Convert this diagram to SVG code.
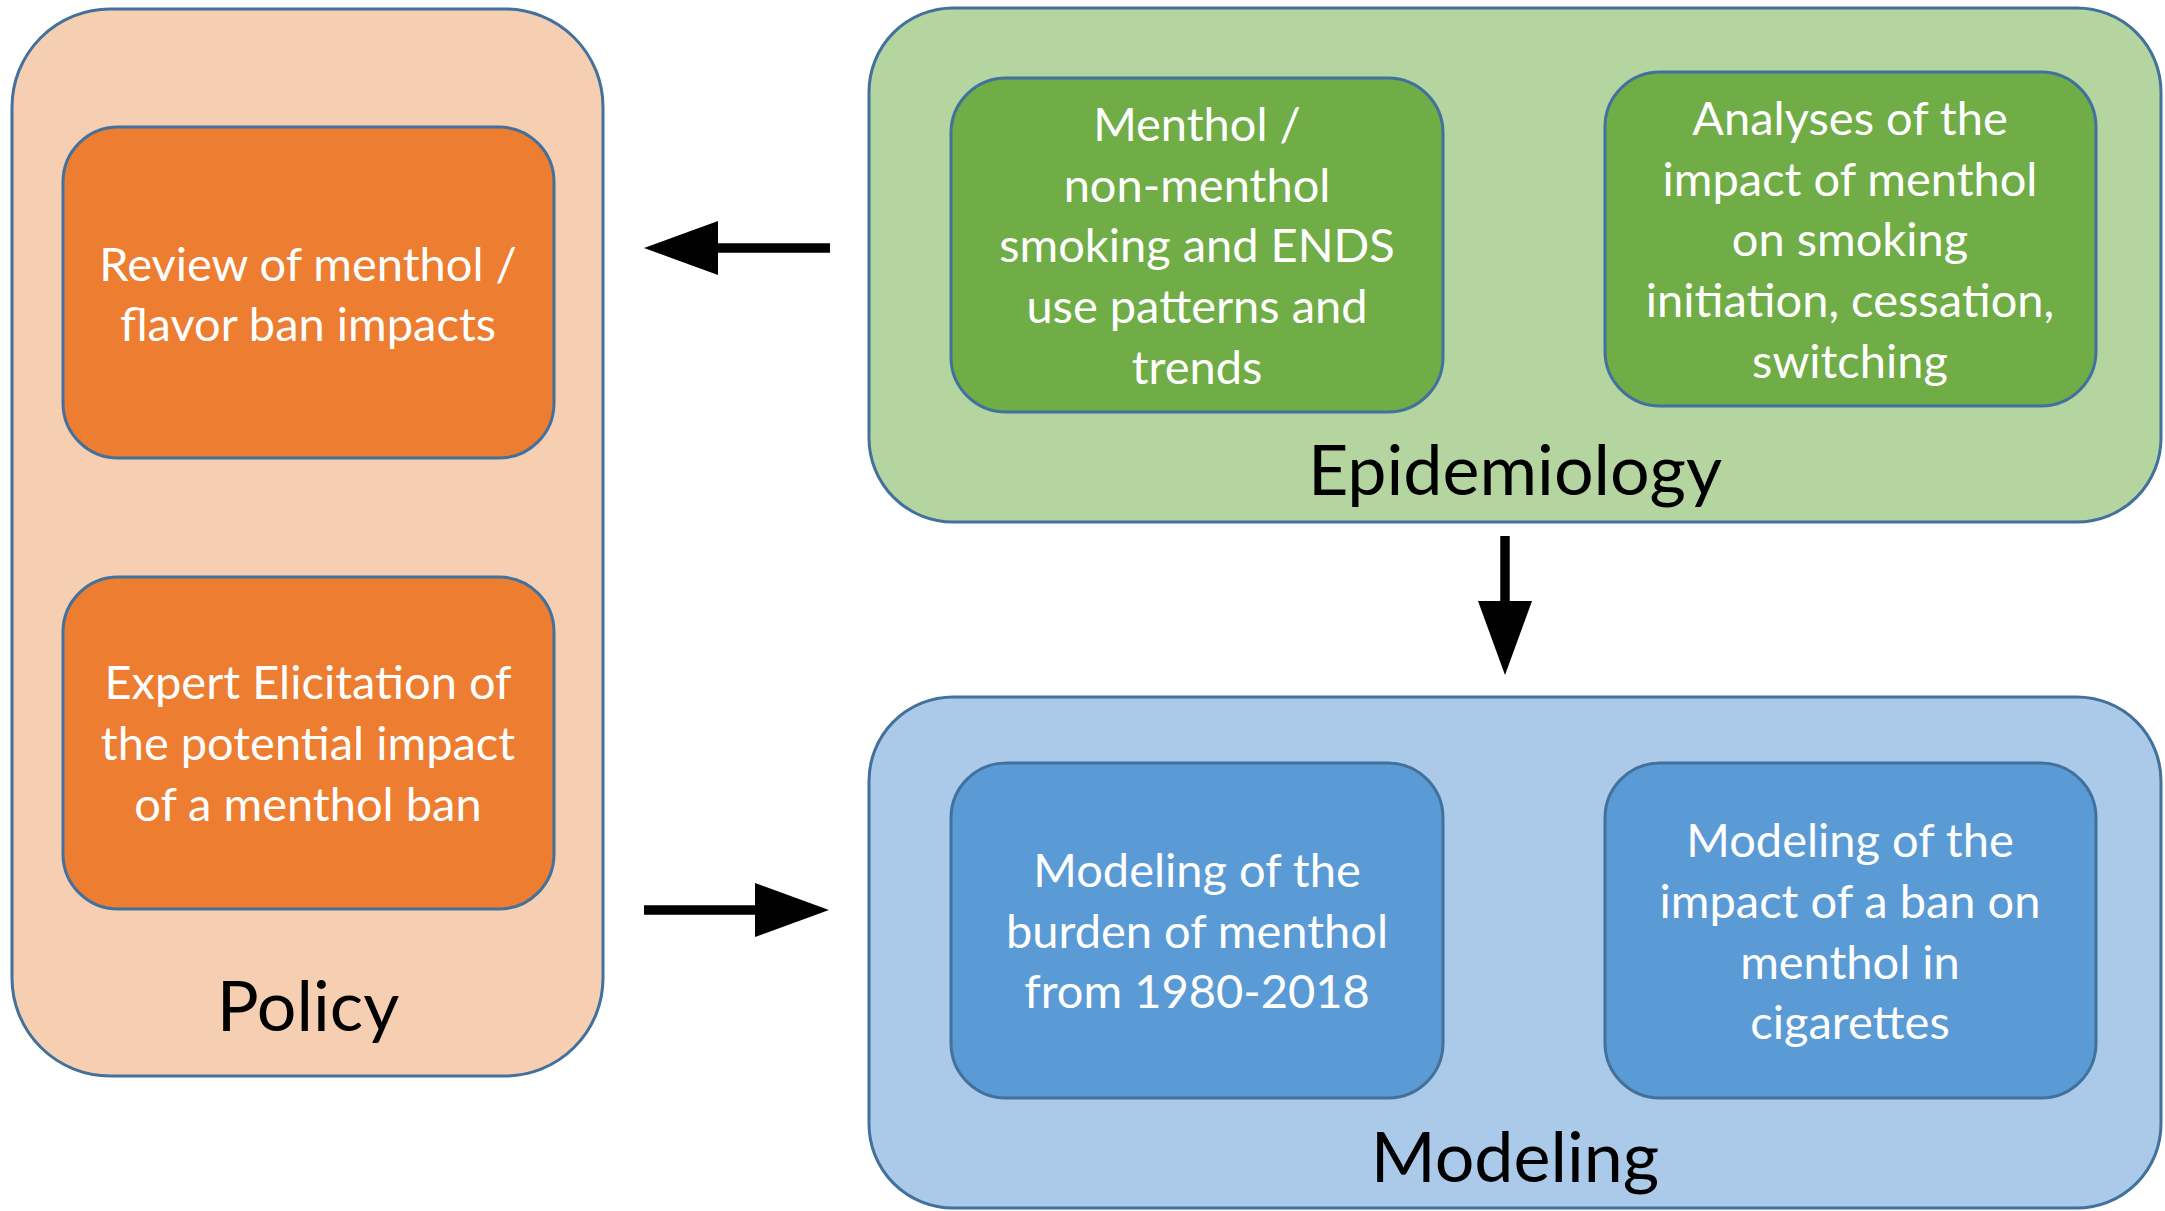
<svg xmlns="http://www.w3.org/2000/svg" width="2165" height="1211" viewBox="0 0 2165 1211">
<style>
.frame{stroke:#41719C;stroke-width:3}
.policy{fill:#F6CEB1}
.epi{fill:#B4D4A0}
.model{fill:#ABCAE9}
.orange{fill:#ED7D31}
.green{fill:#70AD47}
.blue{fill:#5B9BD5}
.inner{font-family:Lato,"Liberation Sans",sans-serif;font-size:47px;fill:#FFFFFF;text-anchor:middle}
.title{font-family:Lato,"Liberation Sans",sans-serif;font-size:70px;fill:#000000;text-anchor:middle}
.conn{stroke:#000000;stroke-width:9.5;fill:none}
</style>
<defs>
<marker id="head" markerUnits="userSpaceOnUse" markerWidth="74" markerHeight="54" refX="0" refY="27" orient="auto" viewBox="0 0 74 54">
<path d="M0,0 L74,27 L0,54 Z" fill="#000000"/>
</marker>
</defs>
<rect width="2165" height="1211" fill="#FFFFFF"/>

<g id="policy">
<rect class="frame policy" x="12" y="9" width="591" height="1067" rx="98" ry="98"/>
<text class="title" x="308" y="1031">Policy</text>
</g>
<g id="review">
<rect class="frame orange" x="63" y="127" width="491" height="331" rx="55" ry="55"/>
<text class="inner" x="308" y="281">Review of menthol /</text>
<text class="inner" x="308" y="341">flavor ban impacts</text>
</g>
<g id="expert">
<rect class="frame orange" x="63" y="577" width="491" height="332" rx="55" ry="55"/>
<text class="inner" x="308" y="699">Expert Elicitation of</text>
<text class="inner" x="308" y="760">the potential impact</text>
<text class="inner" x="308" y="821">of a menthol ban</text>
</g>

<g id="epidemiology">
<rect class="frame epi" x="869" y="8" width="1292" height="514" rx="84" ry="84"/>
<text class="title" x="1515" y="495">Epidemiology</text>
</g>
<g id="patterns">
<rect class="frame green" x="951" y="78" width="492" height="334" rx="55" ry="55"/>
<text class="inner" x="1197" y="141">Menthol /</text>
<text class="inner" x="1197" y="202">non-menthol</text>
<text class="inner" x="1197" y="262">smoking and ENDS</text>
<text class="inner" x="1197" y="323">use patterns and</text>
<text class="inner" x="1197" y="384">trends</text>
</g>
<g id="analyses">
<rect class="frame green" x="1605" y="72" width="491" height="334" rx="55" ry="55"/>
<text class="inner" x="1850" y="135">Analyses of the</text>
<text class="inner" x="1850" y="196">impact of menthol</text>
<text class="inner" x="1850" y="256">on smoking</text>
<text class="inner" x="1850" y="317">initiation, cessation,</text>
<text class="inner" x="1850" y="378">switching</text>
</g>

<g id="modeling">
<rect class="frame model" x="869" y="697" width="1292" height="511" rx="84" ry="84"/>
<text class="title" x="1515" y="1182">Modeling</text>
</g>
<g id="burden">
<rect class="frame blue" x="951" y="763" width="492" height="335" rx="55" ry="55"/>
<text class="inner" x="1197" y="887">Modeling of the</text>
<text class="inner" x="1197" y="948">burden of menthol</text>
<text class="inner" x="1197" y="1008">from 1980-2018</text>
</g>
<g id="ban">
<rect class="frame blue" x="1605" y="763" width="491" height="335" rx="55" ry="55"/>
<text class="inner" x="1850" y="857">Modeling of the</text>
<text class="inner" x="1850" y="918">impact of a ban on</text>
<text class="inner" x="1850" y="979">menthol in</text>
<text class="inner" x="1850" y="1039">cigarettes</text>
</g>

<g id="connectors">
<line class="conn" x1="830" y1="248" x2="718" y2="248" marker-end="url(#head)"/>
<line class="conn" x1="644" y1="910" x2="755" y2="910" marker-end="url(#head)"/>
<line class="conn" x1="1505" y1="536" x2="1505" y2="601" marker-end="url(#head)"/>
</g>
</svg>
